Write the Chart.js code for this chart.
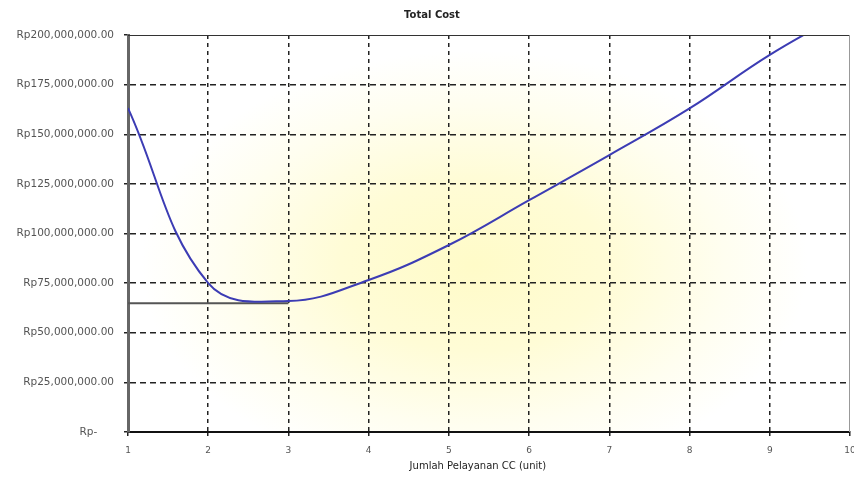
<!DOCTYPE html>
<html>
<head>
<meta charset="utf-8">
<script src="https://cdn.jsdelivr.net/npm/chart.js@4/dist/chart.umd.min.js"></script>
<style>
  html, body { margin: 0; padding: 0; background: #ffffff; }
  #wrap { width: 854px; height: 478px; }
</style>
</head>
<body>
<div id="wrap"><canvas id="chart" width="854" height="478"></canvas></div>
<script>
// Number of call-center service units
const units = [1, 2, 3, 4, 5, 6, 7, 8, 9, 10];
// Total cost per number of units (Rupiah)
const totalCost = [163200000, 75000000, 66000000, 76600000, 94200000, 116800000, 139500000, 163000000, 190000000, 213000000];
// Minimum-cost reference level, drawn from unit 1 to unit 3
const minUnits = [1, 3];
const minCost = [64800000, 64800000];
// Y tick values
const yTicks = [0, 25000000, 50000000, 75000000, 100000000, 125000000, 150000000, 175000000, 200000000];

const FONT = 'DejaVu Sans, Verdana, sans-serif';

function rupiah(v) {
  if (v === 0) return 'Rp-     ';
  return 'Rp' + v.toLocaleString('en-US', { minimumFractionDigits: 2, maximumFractionDigits: 2 });
}

// Soft yellow glow behind the plot area plus the plot frame
const plotBackground = {
  id: 'plotBackground',
  beforeDraw(chart) {
    const { ctx, chartArea: a } = chart;
    ctx.save();
    ctx.fillStyle = '#ffffff';
    ctx.fillRect(a.left, a.top, a.right - a.left, a.bottom - a.top);
    ctx.beginPath();
    ctx.rect(a.left, a.top, a.right - a.left, a.bottom - a.top);
    ctx.clip();
    const cx = a.left + (a.right - a.left) * 0.48;
    const cy = a.top + (a.bottom - a.top) * 0.58;
    ctx.translate(cx, cy);
    ctx.scale(1.55, 1);
    const g = ctx.createRadialGradient(0, 0, 0, 0, 0, 215);
    g.addColorStop(0, '#fffbc8');
    g.addColorStop(0.4, '#fffcd6');
    g.addColorStop(0.75, '#fffef0');
    g.addColorStop(1, '#ffffff');
    ctx.fillStyle = g;
    ctx.fillRect(-400, -300, 800, 600);
    ctx.restore();
  },
  afterDatasetsDraw(chart) {
    const { ctx, chartArea: a } = chart;
    ctx.save();
    ctx.strokeStyle = '#333333';
    ctx.lineWidth = 1.2;
    ctx.beginPath();
    ctx.moveTo(a.left, a.top + 0.5);
    ctx.lineTo(a.right, a.top + 0.5);
    ctx.stroke();
    ctx.strokeStyle = '#999999';
    ctx.lineWidth = 1;
    ctx.beginPath();
    ctx.moveTo(a.right - 0.5, a.top);
    ctx.lineTo(a.right - 0.5, a.bottom);
    ctx.stroke();
    ctx.restore();
  }
};

const ctx = document.getElementById('chart').getContext('2d');
new Chart(ctx, {
  type: 'line',
  data: {
    datasets: [
      {
        label: 'Total Cost',
        data: units.map((u, i) => ({ x: u, y: totalCost[i] })),
        borderColor: '#3c3cb4',
        borderWidth: 2,
        pointRadius: 0,
        tension: 0.4,
        fill: false,
        order: 1
      },
      {
        label: 'Minimum',
        data: minUnits.map((u, i) => ({ x: u, y: minCost[i] })),
        borderColor: '#555555',
        borderWidth: 2,
        pointRadius: 0,
        tension: 0,
        fill: false,
        order: 2
      }
    ]
  },
  options: {
    responsive: false,
    animation: false,
    layout: { padding: { left: 0, right: 4, top: 0, bottom: 0 } },
    plugins: {
      legend: { display: false },
      tooltip: { enabled: false },
      title: {
        display: true,
        text: '    Total Cost',
        color: '#222222',
        font: { family: FONT, size: 10, weight: 'bold' },
        padding: { top: 9, bottom: 14 }
      }
    },
    scales: {
      x: {
        type: 'linear',
        min: 1,
        max: 10,
        afterFit(scale) {
          scale.height = 46;
          scale.paddingLeft = 0;
          scale.paddingRight = 0;
        },
        ticks: {
          stepSize: 1,
          color: '#555555',
          padding: 9,
          font: { family: FONT, size: 9 }
        },
        grid: {
          color: (c) => (c.tick && c.tick.value === 10 ? 'rgba(0,0,0,0)' : '#222222'),
          lineWidth: 1.5,
          tickLength: 4,
          tickColor: '#222222'
        },
        border: { display: true, color: '#111111', width: 2, dash: [4, 4] },
        title: {
          display: true,
          text: 'Jumlah Pelayanan CC (unit)       ',
          color: '#222222',
          font: { family: FONT, size: 10 },
          padding: { top: 0, bottom: 6 }
        }
      },
      y: {
        type: 'linear',
        min: 0,
        max: 200000000,
        afterFit(scale) { scale.width = 128; },
        afterBuildTicks(scale) { scale.ticks = yTicks.map(v => ({ value: v })); },
        ticks: {
          color: '#555555',
          padding: 10,
          font: { family: FONT, size: 10.5 },
          callback: (v) => rupiah(v)
        },
        grid: {
          color: (c) => (c.tick && (c.tick.value === 0 || c.tick.value === 200000000) ? 'rgba(0,0,0,0)' : '#222222'),
          lineWidth: 1.5,
          tickLength: 4,
          tickColor: '#222222'
        },
        border: { display: true, color: '#666666', width: 3, dash: [6, 4] }
      }
    }
  },
  plugins: [plotBackground]
});
</script>
</body>
</html>
